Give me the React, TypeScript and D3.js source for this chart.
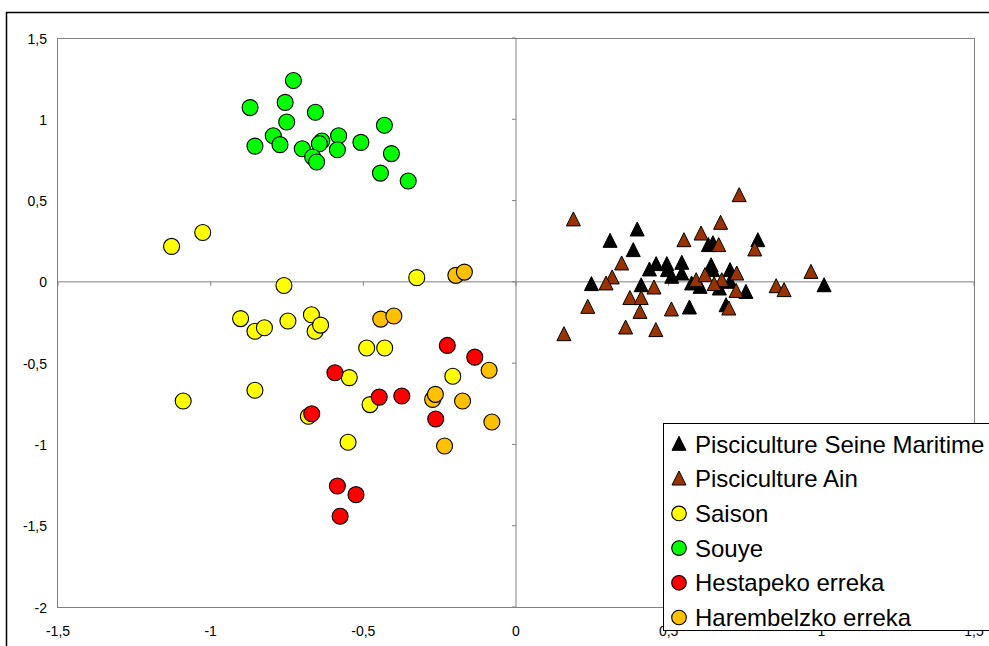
import React from "react";
import * as d3 from "d3";

const seineX = [0.397, 0.308, 0.384, 0.630, 0.645, 0.792, 0.437, 0.459, 0.494, 0.543, 0.496, 0.510, 0.543, 0.639, 0.644, 0.701, 0.575, 0.603, 0.701, 0.666, 0.753, 0.247, 0.410, 0.568, 0.688, 1.009];
const seineY = [0.321, 0.251, 0.194, 0.225, 0.237, 0.255, 0.075, 0.108, 0.108, 0.116, 0.071, 0.030, 0.050, 0.101, 0.071, 0.071, -0.011, -0.032, -0.001, -0.042, -0.063, -0.015, -0.022, -0.159, -0.145, -0.022];

const ainX = [0.188, 0.731, 0.670, 0.606, 0.550, 0.664, 0.782, 0.346, 0.315, 0.295, 0.452, 0.590, 0.619, 0.674, 0.723, 0.649, 0.721, 0.852, 0.878, 0.966, 0.373, 0.410, 0.235, 0.406, 0.509, 0.697, 0.359, 0.458, 0.157];
const ainY = [0.383, 0.532, 0.362, 0.296, 0.255, 0.225, 0.198, 0.112, 0.026, -0.011, -0.036, 0.009, 0.040, 0.009, 0.050, -0.015, -0.057, -0.028, -0.052, 0.060, -0.101, -0.101, -0.155, -0.186, -0.171, -0.165, -0.282, -0.298, -0.323];

const saisonX = [-1.128, -1.026, -0.760, -0.325, -0.902, -0.855, -0.824, -0.747, -0.670, -0.658, -0.640, -0.489, -0.430, -0.546, -0.855, -1.090, -0.478, -0.680, -0.207, -0.550];
const saisonY = [0.218, 0.304, -0.022, 0.026, -0.226, -0.304, -0.282, -0.241, -0.202, -0.304, -0.266, -0.407, -0.407, -0.589, -0.667, -0.733, -0.755, -0.827, -0.581, -0.987];

const souyeX = [-0.729, -0.871, -0.756, -0.657, -0.751, -0.431, -0.795, -0.855, -0.773, -0.700, -0.636, -0.644, -0.581, -0.585, -0.666, -0.653, -0.508, -0.408, -0.444, -0.353];
const souyeY = [1.239, 1.072, 1.104, 1.043, 0.983, 0.963, 0.899, 0.835, 0.844, 0.819, 0.866, 0.850, 0.899, 0.813, 0.768, 0.737, 0.858, 0.789, 0.669, 0.620];

const hestX = [-0.225, -0.135, -0.593, -0.448, -0.374, -0.669, -0.263, -0.585, -0.524, -0.576];
const hestY = [-0.391, -0.463, -0.559, -0.709, -0.702, -0.811, -0.844, -1.256, -1.309, -1.442];

const haremX = [-0.197, -0.169, -0.443, -0.400, -0.088, -0.273, -0.264, -0.175, -0.079, -0.234];
const haremY = [0.040, 0.060, -0.229, -0.210, -0.544, -0.723, -0.692, -0.733, -0.862, -1.010];

const xTicks = [-1.5, -1, -0.5, 0, 0.5, 1, 1.5];
const yTicks = [1.5, 1, 0.5, 0, -0.5, -1, -1.5, -2];

const seriesNames = ["Pisciculture Seine Maritime", "Pisciculture Ain", "Saison", "Souye", "Hestapeko erreka", "Harembelzko erreka"];
const seriesColors = ["#000000", "#993300", "#FFFF00", "#00FF00", "#FF0000", "#FFC000"];
const seriesShapes = ["triangle", "triangle", "circle", "circle", "circle", "circle"];

const seriesXs = [seineX, ainX, saisonX, souyeX, hestX, haremX];
const seriesYs = [seineY, ainY, saisonY, souyeY, hestY, haremY];

const fmt = (v: number) => String(v).replace(".", ",");

export default function App() {
  const W = 989, H = 646;
  const left = 58, right = 974, top = 38, bottom = 607;
  const x = d3.scaleLinear().domain([-1.5, 1.5]).range([left, right]);
  const y = d3.scaleLinear().domain([-2, 1.5]).range([bottom, top]);
  const x0 = x(0), y0 = y(0);
  const font = "Arial, 'Liberation Sans', sans-serif";

  const tri = (s: number) => `M0,${-s * 0.55} L${s / 2},${s * 0.45} L${-s / 2},${s * 0.45} Z`;

  const marker = (shape: string, color: string, cx: number, cy: number, key: string, big = true) =>
    shape === "triangle" ? (
      <path key={key} d={tri(big ? 14 : 14)} transform={`translate(${cx},${cy})`} fill={color} stroke="#000" strokeWidth={1} />
    ) : (
      <circle key={key} cx={cx} cy={cy} r={big ? 8 : 7.3} fill={color} stroke="#000" strokeWidth={1.1} />
    );

  const legX = 663.5, legY = 423.5, rowH = 34.7;

  return (
    <svg width={W} height={H} style={{ position: "absolute", left: 0, top: 0, background: "#fff" }} fontFamily={font}>
      <rect x={0} y={0} width={W} height={H} fill="#fff" />
      <rect x={6.5} y={12.5} width={1100} height={800} fill="none" stroke="#000" strokeWidth={1.5} />
      <rect x={left - 0.5} y={top + 0.5} width={right - left + 1} height={bottom - top} fill="none" stroke="#808080" strokeWidth={1} />
      {/* zero lines */}
      <line x1={left} x2={right} y1={y0} y2={y0} stroke="#808080" strokeWidth={1} />
      <line x1={x0} x2={x0} y1={top} y2={bottom} stroke="#808080" strokeWidth={1} />
      {xTicks.map((t) => (
        <line key={"xt" + t} x1={x(t)} x2={x(t)} y1={y0} y2={y0 + 4} stroke="#808080" strokeWidth={1} />
      ))}
      {yTicks.map((t) => (
        <line key={"yt" + t} x1={x0 - 4} x2={x0} y1={y(t)} y2={y(t)} stroke="#808080" strokeWidth={1} />
      ))}
      {yTicks.map((t) => (
        <text key={"yl" + t} x={47} y={y(t) + 5.5} textAnchor="end" fontSize={14} fill="#000">
          {fmt(t)}
        </text>
      ))}
      {xTicks.map((t) => (
        <text key={"xl" + t} x={x(t)} y={636} textAnchor="middle" fontSize={14} fill="#000">
          {fmt(t)}
        </text>
      ))}
      {seriesXs.map((xs, si) => (
        <g key={"s" + si}>
          {xs.map((v, i) => marker(seriesShapes[si], seriesColors[si], x(v), y(seriesYs[si][i]), `p${si}-${i}`))}
        </g>
      ))}
      <rect x={legX} y={legY} width={400} height={207} fill="#fff" stroke="#000" strokeWidth={1} />
      {seriesNames.map((n, i) => {
        const cy = legY + 20.5 + rowH * i;
        return (
          <g key={"lg" + i}>
            {marker(seriesShapes[i], seriesColors[i], 679, cy, "lm" + i, false)}
            <text x={695} y={cy + 8.5} fontSize={24} fill="#000">
              {n}
            </text>
          </g>
        );
      })}
    </svg>
  );
}
